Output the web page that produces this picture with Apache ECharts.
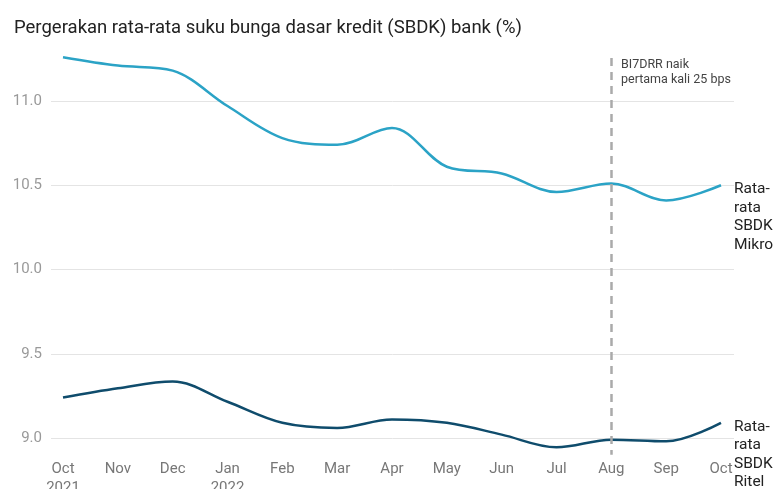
<!DOCTYPE html>
<html>
<head>
<meta charset="utf-8">
<script src="https://cdn.jsdelivr.net/npm/echarts@6/dist/echarts.min.js"></script>
<style>html,body{margin:0;padding:0;background:#fff}#c{width:774px;height:489px}</style>
</head>
<body>
<div id="c"></div>
<script>
const categories = ['Oct\n2021','Nov','Dec','Jan\n2022','Feb','Mar','Apr','May','Jun','Jul','Aug','Sep','Oct'];
const mikro = [11.26, 11.21, 11.18, 10.97, 10.78, 10.74, 10.84, 10.61, 10.57, 10.46, 10.51, 10.41, 10.50];
const ritel = [9.24, 9.295, 9.335, 9.215, 9.09, 9.06, 9.11, 9.09, 9.02, 8.945, 8.99, 8.98, 9.09];
const yTicks = [9.0, 9.5, 10.0, 10.5, 11.0];
const mikroName = 'Rata-\nrata\nSBDK\nMikro';
const ritelName = 'Rata-\nrata\nSBDK\nRitel';
const eventCategory = 'Aug';
const eventText = 'BI7DRR naik\npertama kali 25 bps';

const FONT = 'Roboto, "Noto Sans", sans-serif';
const chart = echarts.init(document.getElementById('c'), null, {renderer: 'canvas'});
const endLabel = (txt) => ({
  show: true, formatter: txt, color: '#222', fontSize: 15.5, lineHeight: 18.5,
  fontFamily: FONT, verticalAlign: 'top', distance: 13, offset: [0, -5]
});
chart.setOption({
  animation: false,
  backgroundColor: '#fff',
  title: {
    text: 'Pergerakan rata-rata suku bunga dasar kredit (SBDK) bank (%)',
    left: 9, top: 14,
    textStyle: {fontSize: 18.5, fontWeight: 'normal', color: '#222', fontFamily: FONT}
  },
  graphic: [{
    type: 'text', left: 621, top: 57,
    style: {text: eventText, fontSize: 12.5, lineHeight: 15.5, fill: '#444', fontFamily: FONT}
  }],
  grid: [
    {left: 51, right: 40, top: 101, bottom: 51, containLabel: false, outerBoundsMode: 'none'},
    {left: 63, right: 53, top: 50.45, bottom: 34.15, containLabel: false, outerBoundsMode: 'none'}
  ],
  xAxis: [
    {gridIndex: 0, type: 'value', min: 0, max: 1, show: false},
    {gridIndex: 1, type: 'category', data: categories, boundaryGap: false,
     axisLine: {show: false}, axisTick: {show: false}, splitLine: {show: false},
     axisLabel: {color: '#777', fontSize: 15, fontFamily: FONT, margin: 5, lineHeight: 19, interval: 0}}
  ],
  yAxis: [
    {gridIndex: 0, type: 'value', min: yTicks[0], max: yTicks[yTicks.length-1], interval: 0.5,
     axisLine: {show: false}, axisTick: {show: false},
     axisLabel: {color: '#999', fontSize: 15, fontFamily: FONT, margin: 9, formatter: v => v.toFixed(1)},
     splitLine: {lineStyle: {color: '#e4e4e4', width: 1}}},
    {gridIndex: 1, type: 'value', min: 8.9, max: 11.3, show: false, splitLine: {show: false}}
  ],
  series: [
    {name: 'Mikro', type: 'line', xAxisIndex: 1, yAxisIndex: 1, data: mikro, smooth: 0.35,
     showSymbol: false, lineStyle: {color: '#2ba3c6', width: 2.5}, itemStyle: {color: '#2ba3c6'},
     endLabel: endLabel(mikroName),
     markLine: {silent: true, symbol: 'none', label: {show: false},
       lineStyle: {color: '#aaa', type: [8, 6], width: 2.5},
       data: [[{xAxis: eventCategory, yAxis: 11.255}, {xAxis: eventCategory, yAxis: 8.9}]]}},
    {name: 'Ritel', type: 'line', xAxisIndex: 1, yAxisIndex: 1, data: ritel, smooth: 0.35,
     showSymbol: false, lineStyle: {color: '#0f4c6c', width: 2.5}, itemStyle: {color: '#0f4c6c'},
     endLabel: endLabel(ritelName)}
  ]
});
</script>
</body>
</html>
